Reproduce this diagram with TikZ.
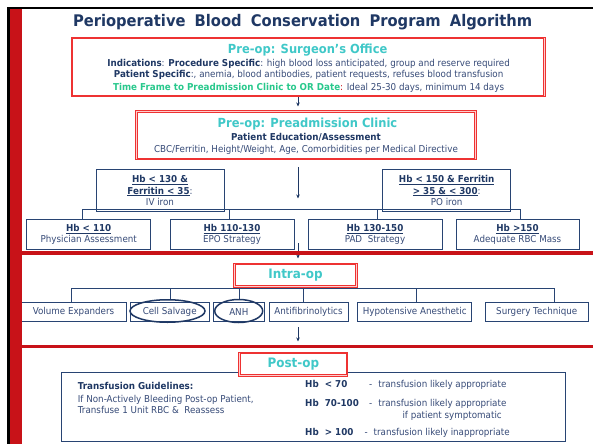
\documentclass[tikz,border=0pt]{standalone}
\usepackage{fontspec}
\setmainfont{DejaVu Sans}[FakeStretch=0.92]
\usetikzlibrary{shapes.geometric,arrows.meta}
\definecolor{navy}{RGB}{31,56,100}
\definecolor{tblue}{RGB}{55,75,120}
\definecolor{tealc}{RGB}{64,200,200}
\definecolor{grn}{RGB}{40,200,140}
\definecolor{bred}{RGB}{200,18,24}
\definecolor{boxred}{RGB}{238,50,50}
\definecolor{pinkc}{RGB}{255,205,205}
\definecolor{bline}{RGB}{40,68,115}
\newcommand\bn[1]{{\bfseries\color{navy}#1}}
\begin{document}
\begin{tikzpicture}[x=1pt,y=-1pt,
 rbox/.style={draw=boxred, line width=0.8pt, fill=pinkc, inner sep=0pt},
 rin/.style={draw=boxred, line width=0.8pt, fill=white},
 nbox/.style={draw=bline, line width=0.9pt, fill=white, inner sep=0pt, align=center, font=\fontsize{9.5}{11.5}\selectfont, text=tblue},
 ibox/.style={draw=bline, line width=0.9pt, fill=white, inner sep=0pt, font=\fontsize{9.5}{11}\selectfont, text=tblue, minimum height=18.7pt},
 conn/.style={draw=bline, line width=0.8pt},
 arr/.style={draw=navy, line width=0.7pt, -{Stealth[length=4pt,width=3.5pt]}},
 hdr/.style={font=\fontsize{12.5}{14}\selectfont\bfseries, text=tealc, inner sep=0pt},
 body/.style={font=\fontsize{9.5}{11}\selectfont, text=tblue, inner sep=0pt},
 ell/.style={draw=navy, line width=1.5pt, ellipse, inner sep=0pt},
]
\useasboundingbox (0,0) rectangle (593,444);
\fill[white] (0,0) rectangle (593,444);

% title
\node[font=\fontsize{16}{18}\selectfont\bfseries, text=navy, anchor=base, inner sep=0pt] (title) at (302.6,26.7)
 {Perioperative\hspace{4pt} Blood\hspace{4pt} Conservation\hspace{4pt} Program\hspace{4pt} Algorithm};

% surgeon's office
\node[rbox, minimum width=474pt, minimum height=59.5pt] (surg) at (308.2,67) {};
\draw[rin] ([xshift=2pt,yshift=-2pt]surg.north west) rectangle ([xshift=-2pt,yshift=2pt]surg.south east);
\node[hdr, anchor=base] (surgT) at (307.7,53.8) {Pre-op: Surgeon’s Office};
\node[body, anchor=base] (ind) at (308.6,66.6) {\bn{Indications}: \bn{Procedure Specific}: high blood loss anticipated, group and reserve required};
\node[body, anchor=base] (pat) at (308.6,77.3) {\bn{Patient Specific}:, anemia, blood antibodies, patient requests, refuses blood transfusion};
\node[body, anchor=base] (tf) at (308.6,90) {{\bfseries\color{grn}Time Frame to Preadmission Clinic to OR Date}{\color{bred}:} Ideal 25-30 days, minimum 14 days};

% preadmission clinic
\node[rbox, minimum width=340.5pt, minimum height=49pt] (clin) at (305.8,135) {};
\draw[rin] ([xshift=2pt,yshift=-2pt]clin.north west) rectangle ([xshift=-2pt,yshift=2pt]clin.south east);
\node[hdr, anchor=base] (clinT) at (307.5,127.8) {Pre-op: Preadmission Clinic};
\node[body, anchor=base] (edu) at (306,140.1) {\bn{Patient Education/Assessment}};
\node[body, anchor=base] (cbc) at (306,152.3) {CBC/Ferritin, Height/Weight, Age, Comorbidities per Medical Directive};

\coordinate (mid) at (298,0);
\coordinate (a1e) at (298,106.5);
\draw[arr] (surg.south -| mid) -- (a1e);

% Hb level
\node[nbox, minimum width=128pt, minimum height=42pt] (iv) at (160,190.5) {\bn{\underline{Hb < 130 \&}}\\\bn{\underline{Ferritin < 35}}:\\IV iron};
\node[nbox, minimum width=128pt, minimum height=42pt] (po) at (446.7,190.5) {\bn{\underline{Hb < 150 \& Ferritin}}\\\bn{\underline{> 35 \& < 300}}:\\PO iron};
\node[nbox, minimum width=124pt, minimum height=30pt] (b1) at (88.7,234.3) {\bn{\underline{Hb < 110}}\\Physician Assessment};
\node[nbox, minimum width=124pt, minimum height=30pt] (b2) at (232,234.3) {\bn{\underline{Hb 110-130}}\\EPO Strategy};
\node[nbox, minimum width=134pt, minimum height=30pt] (b3) at (375,234.3) {\bn{\underline{Hb 130-150}}\\PAD\ \ Strategy};
\node[nbox, minimum width=123pt, minimum height=30pt] (b4) at (517.5,234.3) {\bn{\underline{Hb >150}}\\Adequate RBC Mass};

\coordinate (d1) at (82,209);
\coordinate (d2) at (229,209);
\coordinate (d3) at (377,209);
\coordinate (d4) at (520,209);
\draw[conn] (d1) -- (d4);
\draw[conn] (d1) -- (d1 |- b1.north);
\draw[conn] (d2) -- (d2 |- b2.north);
\draw[conn] (d3) -- (d3 |- b3.north);
\draw[conn] (d4) -- (d4 |- b4.north);

\coordinate (a2s) at (298,167);
\coordinate (a2e) at (298,198.5);
\draw[arr] (a2s) -- (a2e);

% intra-op
\node[rbox, minimum width=123.5pt, minimum height=24pt] (intra) at (295.5,275.2) {};
\draw[rin] ([xshift=2pt,yshift=-2pt]intra.north west) rectangle ([xshift=-2pt,yshift=2pt]intra.south east);
\node[hdr, font=\fontsize{13}{15}\selectfont\bfseries] (intraT) at (295.5,275.6) {Intra-op};

\coordinate (a3s) at (298,243);
\coordinate (a3e) at (298,258.5);
\draw[arr] (a3s) -- (a3e);

\coordinate (e1) at (71,288.3);
\coordinate (e2) at (170,288.3);
\coordinate (e3) at (239,288.3);
\coordinate (e4) at (303.3,288.3);
\coordinate (e5) at (416.7,288.3);
\coordinate (e6) at (554.3,288.3);

\node[ibox, minimum width=105pt] (ve) at (73.5,311.7) {Volume Expanders};
\node[ibox, minimum width=79.3pt] (cs) at (169.7,311.7) {Cell Salvage};
\node[ibox, minimum width=51pt] (anh) at (238.8,311.7) {ANH};
\node[ibox, minimum width=79pt] (af) at (308.5,311.7) {Antifibrinolytics};
\node[ibox, minimum width=114pt] (hy) at (414.7,311.7) {Hypotensive Anesthetic};
\node[ibox, minimum width=103.3pt] (st) at (536.7,311.7) {Surgery Technique};
\node[ell, minimum width=75pt, minimum height=22.5pt] (csE) at (167.5,311) {};
\node[ell, minimum width=48pt, minimum height=23pt] (anhE) at (238.7,311) {};

\draw[conn] (e1) -- (e6);
\draw[conn] (e1) -- (e1 |- ve.north);
\draw[conn] (e2) -- (e2 |- csE.north);
\draw[conn] (e3) -- (e3 |- anhE.north);
\draw[conn] (e4) -- (e4 |- af.north);
\draw[conn] (e5) -- (e5 |- hy.north);
\draw[conn] (e6) -- (e6 |- st.north);

\coordinate (a4s) at (298,327);
\coordinate (a4e) at (298,341.5);
\draw[arr] (a4s) -- (a4e);

% post-op
\node[draw=bline, line width=0.9pt, minimum width=503.3pt, minimum height=68.7pt, inner sep=0pt] (tg) at (313.3,406.7) {};
\node[rbox, minimum width=109pt, minimum height=24pt] (post) at (293.3,364.2) {};
\draw[rin] ([xshift=2pt,yshift=-2pt]post.north west) rectangle ([xshift=-2pt,yshift=2pt]post.south east);
\node[hdr, font=\fontsize{13}{15}\selectfont\bfseries] (postT) at (293.3,364.6) {Post-op};

\node[body, anchor=base west] (tgT) at (77.7,389.3) {\bn{Transfusion Guidelines:}};
\node[body, anchor=base west] (tg1) at (77.7,402.6) {If Non-Actively Bleeding Post-op Patient,};
\node[body, anchor=base west] (tg2) at (77.7,413.3) {Transfuse 1 Unit RBC \&\ \ Reassess};

\node[body, anchor=base west] (h1) at (305,387.6) {\bn{Hb\ \ < 70}};
\node[body, anchor=base west] (h1t) at (369,387.6) {-\hspace{6pt}transfusion likely appropriate};
\node[body, anchor=base west] (h2) at (305,406.6) {\bn{Hb\ \ 70-100}};
\node[body, anchor=base west] (h2t) at (369,406.6) {-\hspace{6pt}transfusion likely appropriate};
\node[body, anchor=base west] (h2u) at (402.3,418.6) {if patient symptomatic};
\node[body, anchor=base west] (h3) at (305,435.6) {\bn{Hb\ \ > 100}};
\node[body, anchor=base west] (h3t) at (364.3,435.6) {-\hspace{6pt}transfusion likely inappropriate};

% frame and dividers
\fill[bred] (22,251) rectangle (593,254.5);
\fill[bred] (22,344.6) rectangle (593,348.1);
\fill[bred] (10,9.3) rectangle (22,444);
\fill[black] (7.3,7) rectangle (593,9.3);
\fill[black] (7.3,7) rectangle (10,444);
\end{tikzpicture}
\end{document}
